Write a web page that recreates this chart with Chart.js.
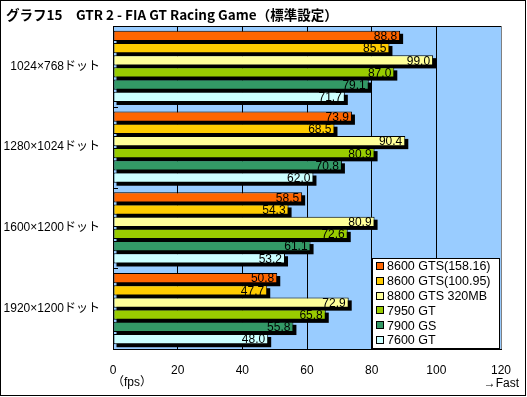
<!DOCTYPE html>
<html lang="ja">
<head>
<meta charset="utf-8">
<title>グラフ15 GTR 2 - FIA GT Racing Game</title>
<script src="https://cdn.jsdelivr.net/npm/chart.js@4"></script>
<style>
    html, body { margin: 0; padding: 0; background: #ffffff; }
    canvas { display: block; }
</style>
</head>
<body>
<canvas id="gtrChart" width="527" height="397"></canvas>
<script>
const resolutions = ['1024×768ドット', '1280×1024ドット', '1600×1200ドット', '1920×1200ドット'];
const cardNames = ['8600 GTS(158.16)', '8600 GTS(100.95)', '8800 GTS 320MB', '7950 GT', '7900 GS', '7600 GT'];
const cardColors = ['#FF6600', '#FFCC00', '#FFFF99', '#99CC00', '#339966', '#CCFFFF'];

const gts158 = [88.8, 73.9, 58.5, 50.8];
const gts100 = [85.5, 68.5, 54.3, 47.7];
const gts320 = [99.0, 90.4, 80.9, 72.9];
const gt7950 = [87.0, 80.9, 72.6, 65.8];
const gs7900 = [79.1, 70.8, 61.1, 55.8];
const gt7600 = [71.7, 62.0, 53.2, 48.0];

const xTicks = [0, 20, 40, 60, 80, 100, 120];

const chartTitle = 'グラフ15\u3000GTR 2 - FIA GT Racing Game（標準設定）';
const unitLabel = '（fps）';
const fastLabel = '→Fast';

const baseFont = '"Liberation Sans", Arial, "Noto Sans CJK JP", sans-serif';

document.addEventListener('DOMContentLoaded', () => {
    initGtrChart();
});

// light blue plot area, drawn under everything
const plotBackground = {
    id: 'plotBackground',
    beforeDraw(chart) {
        const { ctx, chartArea } = chart;
        ctx.save();
        ctx.fillStyle = '#FFFFFF';
        ctx.fillRect(0, 0, chart.width, chart.height);
        ctx.fillStyle = '#99CCFF';
        ctx.fillRect(chartArea.left, chartArea.top, chartArea.right - chartArea.left, chartArea.bottom - chartArea.top);
        ctx.restore();
    }
};

// black drop shadow under every bar, before the bars themselves
const barShadows = {
    id: 'barShadows',
    beforeDatasetsDraw(chart) {
        const { ctx } = chart;
        ctx.save();
        ctx.fillStyle = '#000000';
        chart.data.datasets.forEach((ds, i) => {
            chart.getDatasetMeta(i).data.forEach((bar) => {
                const p = bar.getProps(['x', 'y', 'base', 'height'], true);
                ctx.fillRect(p.base + 3, p.y - p.height / 2 + 3, p.x - p.base, p.height);
            });
        });
        ctx.restore();
    }
};

const barValues = {
    id: 'barValues',
    afterDatasetsDraw(chart) {
        const { ctx } = chart;
        ctx.save();
        ctx.font = '12px ' + baseFont;
        ctx.fillStyle = '#000000';
        ctx.textAlign = 'right';
        ctx.textBaseline = 'middle';
        chart.data.datasets.forEach((ds, i) => {
            chart.getDatasetMeta(i).data.forEach((bar, j) => {
                const p = bar.getProps(['x', 'y'], true);
                ctx.fillText(ds.data[j].toFixed(1), p.x - 3, p.y + 1);
            });
        });
        ctx.restore();
    }
};

const decorations = {
    id: 'decorations',
    afterDraw(chart) {
        const { ctx, chartArea } = chart;
        const yScale = chart.scales.y;
        const xScale = chart.scales.x;
        ctx.save();

        // plot frame top
        ctx.strokeStyle = '#000000';
        ctx.lineWidth = 1;
        ctx.beginPath();
        ctx.moveTo(chartArea.left, Math.round(chartArea.top) + 0.5);
        ctx.lineTo(chartArea.right, Math.round(chartArea.top) + 0.5);
        ctx.stroke();

        // small inward ticks between resolution groups
        const half = (yScale.getPixelForValue(1) - yScale.getPixelForValue(0)) / 2;
        ctx.beginPath();
        for (let i = 0; i <= resolutions.length; i++) {
            const y = Math.round(yScale.getPixelForValue(i) - half) + 0.5;
            ctx.moveTo(chartArea.left, y);
            ctx.lineTo(chartArea.left + 5, y);
        }
        ctx.stroke();

        // title
        ctx.fillStyle = '#000000';
        ctx.textBaseline = 'middle';
        ctx.textAlign = 'left';
        ctx.font = 'bold 13.5px "Noto Sans CJK JP", sans-serif';
        ctx.fillText(chartTitle, 6, 15);

        // axis notes
        ctx.font = '12px ' + baseFont;
        ctx.textAlign = 'center';
        ctx.fillText(unitLabel, xScale.getPixelForValue(xTicks[0]) + 19, 383);
        ctx.textAlign = 'right';
        ctx.fillText(fastLabel, xScale.getPixelForValue(xTicks[xTicks.length - 1]) + 18, 384);

        // legend box
        const lx = 372;
        const ly = 258;
        const lw = 128;
        const lh = 91;
        ctx.fillStyle = '#FFFFFF';
        ctx.fillRect(lx, ly, lw, lh);
        ctx.strokeRect(lx + 0.5, ly + 0.5, lw - 1, lh - 1);
        ctx.textAlign = 'left';
        ctx.font = '12.5px ' + baseFont;
        chart.data.datasets.forEach((ds, i) => {
            const cy = ly + 8 + i * 14.8;
            ctx.fillStyle = ds.backgroundColor;
            ctx.fillRect(lx + 4, Math.round(cy - 4), 8, 8);
            ctx.strokeRect(lx + 4.5, Math.round(cy - 4) + 0.5, 7, 7);
            ctx.fillStyle = '#000000';
            ctx.fillText(ds.label, lx + 15, cy + 1);
        });

        // outer frame
        ctx.strokeRect(0.5, 0.5, 525, 395);
        ctx.restore();
    }
};

function initGtrChart() {
    const canvas = document.getElementById('gtrChart');
    if (!canvas || typeof Chart === 'undefined') {
        return;
    }

    const series = [gts158, gts100, gts320, gt7950, gs7900, gt7600];

    new Chart(canvas, {
        type: 'bar',
        data: {
            labels: resolutions,
            datasets: series.map((values, i) => ({
                label: cardNames[i],
                data: values,
                backgroundColor: cardColors[i],
                borderColor: '#000000',
                borderWidth: 1,
                borderSkipped: false,
                categoryPercentage: 0.906,
                barPercentage: 0.84
            }))
        },
        options: {
            indexAxis: 'y',
            responsive: false,
            animation: false,
            layout: {
                padding: { top: 26, right: 26, left: 0, bottom: 0 }
            },
            plugins: {
                legend: { display: false },
                tooltip: { enabled: false },
                title: { display: false }
            },
            scales: {
                x: {
                    min: xTicks[0],
                    max: xTicks[xTicks.length - 1],
                    afterFit(scale) {
                        scale.height = 48;
                    },
                    afterBuildTicks(scale) {
                        scale.ticks = xTicks.map((v) => ({ value: v }));
                    },
                    grid: {
                        color: (ctx) => (ctx.index === xTicks.length - 1 ? '#808080' : '#000000'),
                        drawTicks: false
                    },
                    border: {
                        color: '#000000'
                    },
                    ticks: {
                        padding: 14,
                        color: '#000000',
                        maxRotation: 0,
                        font: { size: 12, family: baseFont }
                    }
                },
                y: {
                    afterFit(scale) {
                        scale.width = 113;
                    },
                    grid: {
                        display: false,
                        drawTicks: false
                    },
                    border: {
                        color: '#000000'
                    },
                    ticks: {
                        padding: 13,
                        color: '#000000',
                        font: { size: 12, family: baseFont }
                    }
                }
            }
        },
        plugins: [plotBackground, barShadows, barValues, decorations]
    });
}
</script>
</body>
</html>
